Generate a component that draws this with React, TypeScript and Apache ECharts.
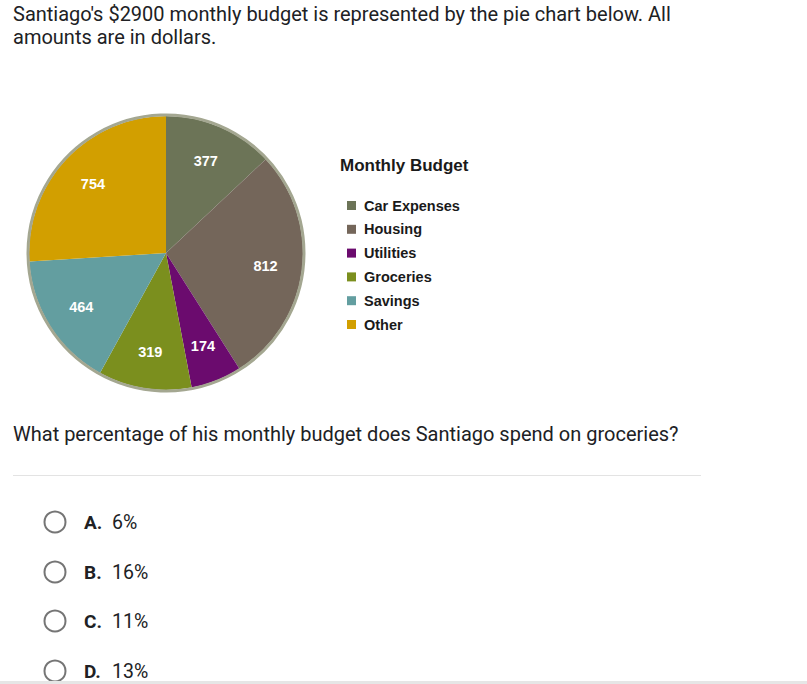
import React, { useEffect, useRef } from "react";
import * as echarts from "echarts";

const categories = ["Car Expenses", "Housing", "Utilities", "Groceries", "Savings", "Other"];
const amounts = [377, 812, 174, 319, 464, 754];
const sliceColors = ["#6c7457", "#74665a", "#6b0b6e", "#7b8f1e", "#639ea0", "#d29f00"];
const optionLetters = ["A.", "B.", "C.", "D."];
const optionValues = ["6%", "16%", "11%", "13%"];

const W = 807;
const H = 684;

export default function App() {
  const ref = useRef<HTMLDivElement>(null);
  useEffect(() => {
    if (!ref.current) return;
    const chart = echarts.init(ref.current, undefined, { renderer: "svg" });
    const cx = 166;
    const cy = 253;
    const r = 137;
    const pieData = categories.map((name, i) => ({
      name,
      value: amounts[i],
      itemStyle: { color: sliceColors[i] },
    }));
    const page = "Roboto, 'Noto Sans', sans-serif";
    const chartFont = "'Liberation Sans', Arial, sans-serif";
    const optY = [522, 572, 621, 671];
    const graphics: any[] = [
      {
        type: "text",
        left: 13,
        top: 2,
        style: {
          text: "Santiago's $2900 monthly budget is represented by the pie chart below. All\namounts are in dollars.",
          font: `400 20px ${page}`,
          lineHeight: 23,
          fill: "#202124",
        },
      },
      {
        type: "text",
        x: 340,
        y: 165,
        style: {
          text: "Monthly Budget",
          font: `bold 17px ${chartFont}`,
          fill: "#1a1a1a",
          textVerticalAlign: "middle",
        },
      },
      {
        type: "circle",
        shape: { cx, cy, r: r + 1 },
        style: { fill: "none", stroke: "#a4a791", lineWidth: 3 },
        z: 10,
        silent: true,
      },
      {
        type: "text",
        x: 13,
        y: 434,
        style: {
          text: "What percentage of his monthly budget does Santiago spend on groceries?",
          font: `400 20px ${page}`,
          fill: "#202124",
          textVerticalAlign: "middle",
        },
      },
      {
        type: "line",
        shape: { x1: 13, y1: 475.5, x2: 701, y2: 475.5 },
        style: { stroke: "#e3e3e3", lineWidth: 1 },
      },
      {
        type: "rect",
        shape: { x: 0, y: 681, width: W, height: 3 },
        style: { fill: "#e6e6e6" },
        z: 20,
      },
    ];
    optionLetters.forEach((l, i) => {
      graphics.push({
        type: "circle",
        shape: { cx: 55, cy: optY[i], r: 10.5 },
        style: { fill: "#ffffff", stroke: "#757575", lineWidth: 2 },
      });
      graphics.push({
        type: "text",
        x: 84,
        y: optY[i],
        style: {
          text: l,
          font: `bold 19px ${page}`,
          fill: "#202124",
          textVerticalAlign: "middle",
        },
      });
      graphics.push({
        type: "text",
        x: 112,
        y: optY[i],
        style: {
          text: optionValues[i],
          font: `400 19.5px ${page}`,
          fill: "#202124",
          textVerticalAlign: "middle",
        },
      });
    });

    chart.setOption({
      animation: false,
      backgroundColor: "#ffffff",
      legend: {
        orient: "vertical",
        left: 342,
        top: 193,
        data: categories,
        icon: "rect",
        itemWidth: 9,
        itemHeight: 9,
        itemGap: 8.8,
        selectedMode: false,
        textStyle: {
          fontFamily: chartFont,
          fontWeight: "bold",
          fontSize: 14.5,
          color: "#1a1a1a",
          padding: [0, 0, 0, 3],
        },
      },
      series: [
        {
          type: "pie",
          center: [cx, cy],
          radius: [0, r],
          startAngle: 90,
          clockwise: true,
          data: pieData,
          label: { show: false },
          labelLine: { show: false },
          itemStyle: { borderWidth: 0 },
          silent: true,
        },
        {
          type: "pie",
          center: [cx, cy],
          radius: [r * 0.42, r],
          startAngle: 90,
          clockwise: true,
          data: categories.map((name, i) => ({ name, value: amounts[i], itemStyle: { color: "transparent" } })),
          label: {
            show: true,
            position: "inside",
            formatter: "{c}",
            color: "#ffffff",
            fontFamily: chartFont,
            fontWeight: "bold",
            fontSize: 14.5,
          },
          labelLine: { show: false },
          legendHoverLink: false,
          silent: true,
          z: 5,
        },
      ],
      graphic: graphics,
    });
    return () => chart.dispose();
  }, []);
  return (
    <div
      ref={ref}
      style={{ position: "fixed", left: 0, top: 0, width: W, height: H }}
    />
  );
}
